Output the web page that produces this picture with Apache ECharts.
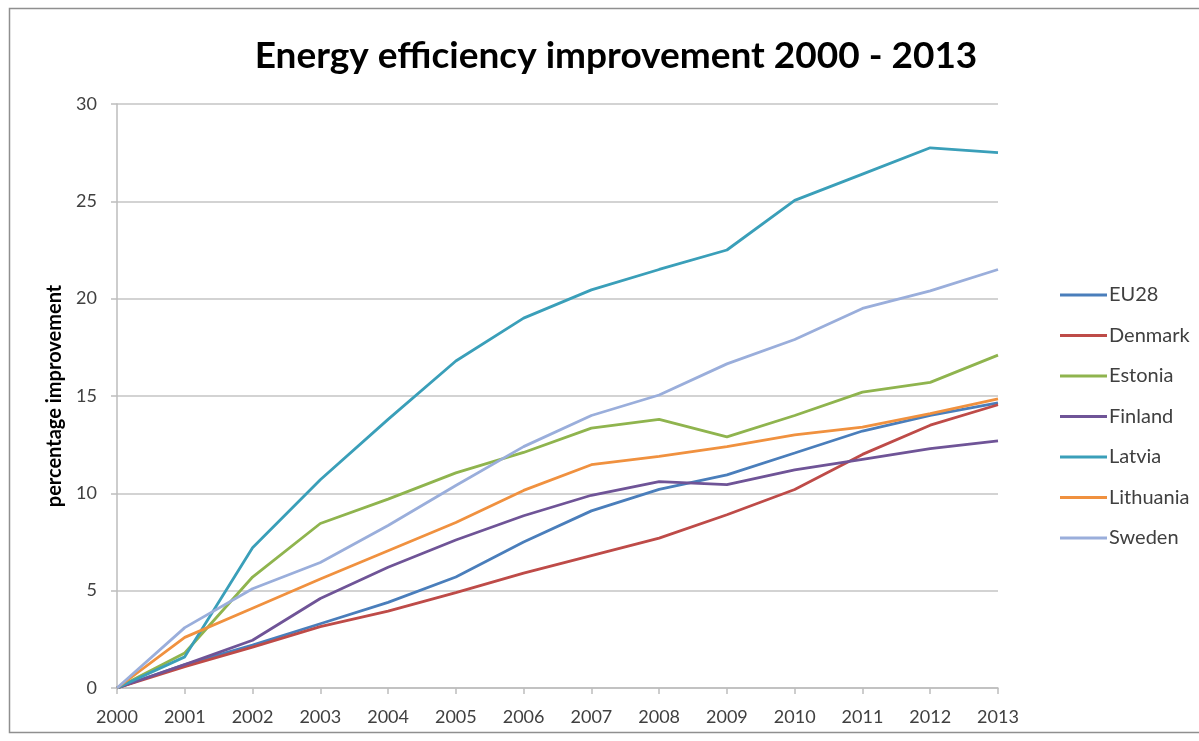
<!DOCTYPE html>
<html>
<head>
<meta charset="utf-8">
<script src="https://cdn.jsdelivr.net/npm/echarts@6/dist/echarts.min.js"></script>
<style>
  html, body { margin: 0; padding: 0; background: #ffffff; }
  #chart { width: 1199px; height: 741px; }
</style>
</head>
<body>
<div id="chart"></div>
<script>
// Years on the horizontal axis
const years = ['2000','2001','2002','2003','2004','2005','2006','2007','2008','2009','2010','2011','2012','2013'];

// Cumulative energy efficiency improvement since 2000, percent
const eu28      = [0, 1.2, 2.2, 3.3, 4.4, 5.7, 7.5, 9.1, 10.2, 10.95, 12.07, 13.2, 14.0, 14.65];
const denmark   = [0, 1.1, 2.1, 3.15, 3.95, 4.9, 5.9, 6.8, 7.7, 8.9, 10.2, 12.0, 13.5, 14.55];
const estonia   = [0, 1.8, 5.7, 8.45, 9.7, 11.05, 12.1, 13.35, 13.8, 12.9, 14.0, 15.2, 15.7, 17.1];
const finland   = [0, 1.2, 2.45, 4.6, 6.2, 7.6, 8.85, 9.9, 10.6, 10.45, 11.2, 11.75, 12.3, 12.7];
const latvia    = [0, 1.6, 7.2, 10.7, 13.8, 16.8, 19.0, 20.45, 21.5, 22.5, 25.05, 26.4, 27.75, 27.5];
const lithuania = [0, 2.6, 4.1, 5.6, 7.05, 8.5, 10.15, 11.47, 11.9, 12.4, 13.0, 13.4, 14.1, 14.85];
const sweden    = [0, 3.1, 5.1, 6.45, 8.35, 10.4, 12.4, 14.0, 15.05, 16.65, 17.9, 19.5, 20.4, 21.5];

const seriesNames = ['EU28', 'Denmark', 'Estonia', 'Finland', 'Latvia', 'Lithuania', 'Sweden'];
const seriesData  = [eu28, denmark, estonia, finland, latvia, lithuania, sweden];
const seriesColors = ['#4a7ebb', '#be4b48', '#8fb44e', '#6f5497', '#3a9fb9', '#f0913f', '#9aaedb'];

const FONT = 'Lato, "Open Sans", sans-serif';

const chart = echarts.init(document.getElementById('chart'), null, { renderer: 'canvas' });

chart.setOption({
  backgroundColor: '#ffffff',
  animation: false,
  color: seriesColors,
  title: {
    text: 'Energy efficiency improvement 2000 - 2013',
    left: 611,
    top: 33,
    textAlign: 'center',
    textStyle: { fontFamily: FONT, fontWeight: 'bold', fontSize: 37, color: '#000000' }
  },
  graphic: [
    {
      type: 'rect',
      shape: { x: 9.5, y: 8.5, width: 1300, height: 724 },
      style: { fill: 'none', stroke: '#8f8f8f', lineWidth: 1.5 },
      silent: true
    }
  ],
  legend: {
    orient: 'vertical',
    left: 1055,
    top: 280,
    itemGap: 20.5,
    itemWidth: 47,
    itemHeight: 20,
    icon: 'path://M0,0 L47,0 L47,3 L0,3 Z',
    textStyle: { fontFamily: FONT, fontSize: 20, color: '#404040', padding: [0, 0, 0, -3] },
    data: seriesNames
  },
  grid: { left: 117, right: 201, top: 104, bottom: 53, containLabel: false },
  xAxis: {
    type: 'category',
    data: years,
    boundaryGap: false,
    axisLine: { lineStyle: { color: '#bdbdbd', width: 1.5 } },
    axisTick: { show: true, length: 6, lineStyle: { color: '#bdbdbd', width: 1.5 } },
    axisLabel: { fontFamily: FONT, fontSize: 18, color: '#404040', margin: 20 },
    splitLine: { show: false }
  },
  yAxis: {
    type: 'value',
    min: 0,
    max: 30,
    interval: 5,
    name: 'percentage improvement',
    nameLocation: 'middle',
    nameGap: 52,
    nameRotate: 90,
    nameTextStyle: { fontFamily: FONT, fontWeight: 'bold', fontSize: 20, color: '#000000' },
    axisLine: { show: true, lineStyle: { color: '#bdbdbd', width: 1.5 } },
    axisTick: { show: true, length: 6, lineStyle: { color: '#bdbdbd', width: 1.5 } },
    axisLabel: { fontFamily: FONT, fontSize: 18, color: '#404040', margin: 20 },
    splitLine: { show: true, lineStyle: { color: '#c4c4c4', width: 1.5 } }
  },
  series: seriesNames.map((name, i) => ({
    name: name,
    type: 'line',
    data: seriesData[i],
    symbol: 'none',
    smooth: false,
    lineStyle: { width: 2.8, color: seriesColors[i] },
    itemStyle: { color: seriesColors[i] }
  }))
});
</script>
</body>
</html>
